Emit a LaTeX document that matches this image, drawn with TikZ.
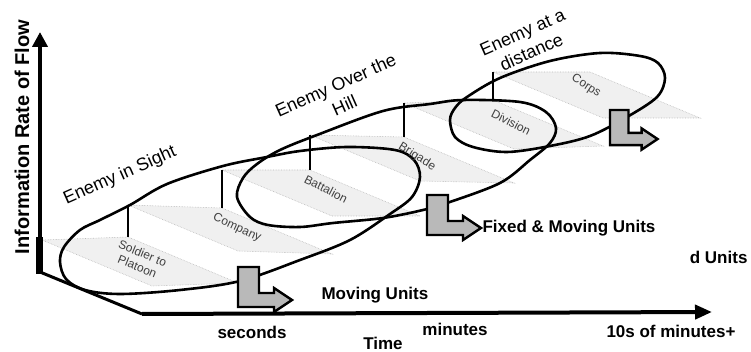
\documentclass[tikz,border=0pt]{standalone}
\usepackage{fontspec}
\setmainfont{Liberation Sans}
\usepackage{tikz}
\usetikzlibrary{arrows.meta}
\tikzset{
  bent arrow/.pic={
    \draw [line width=2.4pt, line join=miter, fill=gray!55, pic actions]
    (0,0) -- (21,0) -- (21,26) -- (36,26) -- (36,21) -- (54,33) -- (36,45) -- (36,40) -- (0,40) -- cycle;
  },
  oval/.style={line width=2.6pt},
  riser/.style={line width=2.6pt},
  tread/.style={fill=gray!12, draw=gray!55, densely dotted, line width=.6pt},
  unit label/.style={font=\fontsize{12}{14}\selectfont, text=black!75, align=center},
  enemy label/.style={font=\fontsize{18}{22}\selectfont, align=center, rotate=24},
  axis label/.style={font=\bfseries\fontsize{17}{19}\selectfont},
}

\begin{document}
\begin{tikzpicture}[x=1pt, y=-1pt]
\useasboundingbox (0,0) rectangle (751,352);

% treads of the staircase
\foreach \xa/\ya/\xb/\yb in {42/240/128/237, 128/205/222/208, 222/170/310/170, 310/135/404/137, 404/103/493/100, 493/72/590/72}
  \draw [tread] (\xa,\ya) -- (\xb,\yb) -- ++(110,46) -- ++(\xa-\xb,\ya-\yb) -- cycle;

% axes
\coordinate (corner) at (40,272);
\coordinate (ytop) at (40,32);
\coordinate (front) at (142,314);
\coordinate (xend) at (712,312);
\fill (36,237) rectangle (43,274);
\draw [line width=4pt, -{Triangle[length=15pt, width=15pt]}] (corner) -- (ytop);
\draw [line width=3pt] (corner) -- (front);
\draw [line width=4pt, -{Triangle[length=17pt, width=14pt]}] (front) -- (xend);

% risers
\foreach \x/\t/\b in {128/205/237, 222/170/208, 310/135/170, 404/103/137, 493/72/100}
  \draw [riser] (\x,\t) -- (\x,\b);

% enemy in sight
\draw [oval] plot [smooth cycle, tension=.55] coordinates {(60,262) (64,247) (80,230) (100,220) (130,205) (167,184) (223,166) (267,157) (300,151) (347,147) (395,150) (414,160) (420,177) (412,197) (390,214) (350,240) (300,260) (240,281) (180,290) (120,294) (85,290) (66,279)};
% enemy over the hill
\draw [oval] plot [smooth cycle, tension=.55] coordinates {(237,197) (243,178) (257,164) (280,150) (317,135) (383,111) (430,104) (463,100) (520,102) (546,112) (556,128) (550,143) (530,160) (500,183) (447,203) (423,210) (383,218) (333,223) (300,227) (268,225) (250,217)};
% enemy at a distance
\draw [oval] plot [smooth cycle, tension=.55] coordinates {(450,120) (455,108) (467,97) (500,78) (550,61) (600,53) (640,56) (658,63) (665,78) (657,97) (627,117) (590,136) (550,146) (507,152) (473,147) (455,137)};

\node [unit label, rotate=-22] (platoon) at (140,260) {Soldier to\\Platoon};
\node [unit label, rotate=-25] (company) at (237,228) {Company};
\node [unit label, rotate=-27] (battalion) at (326,189) {Battalion};
\node [unit label, rotate=-32] (brigade) at (417,157) {Brigade};
\node [unit label, rotate=-27] (division) at (511,122) {Division};
\node [unit label, rotate=-33] (corps) at (586,86) {Corps};

\node [enemy label] (sight) at (120,176) {Enemy in Sight};
\node [enemy label] (hill) at (340,95) {Enemy Over the\\Hill};
\node [enemy label] (distance) at (527,42) {Enemy at a\\distance};

\pic at (238,267) {bent arrow};
\pic at (427,195) {bent arrow};
\pic [scale=.88] at (610,110) {bent arrow};

\node [axis label, anchor=base west] (moving) at (318,299) {Moving Units};
\node [axis label, anchor=base west] (fixedmoving) at (479,233) {Fixed \& Moving Units};
\node [axis label, anchor=base east] (fixed) at (751,263) {d Units};

\node [axis label, rotate=90, font=\bfseries\fontsize{20}{22}\selectfont] (rate) at (22,137) {Information Rate of Flow};
\node [axis label, anchor=base] (seconds) at (252,338) {seconds};
\node [axis label, anchor=base] (minutes) at (455,335) {minutes};
\node [axis label, anchor=base] (tens) at (671,337) {10s of minutes+};
\node [axis label, anchor=base] (time) at (383,349) {Time};
\end{tikzpicture}
\end{document}
